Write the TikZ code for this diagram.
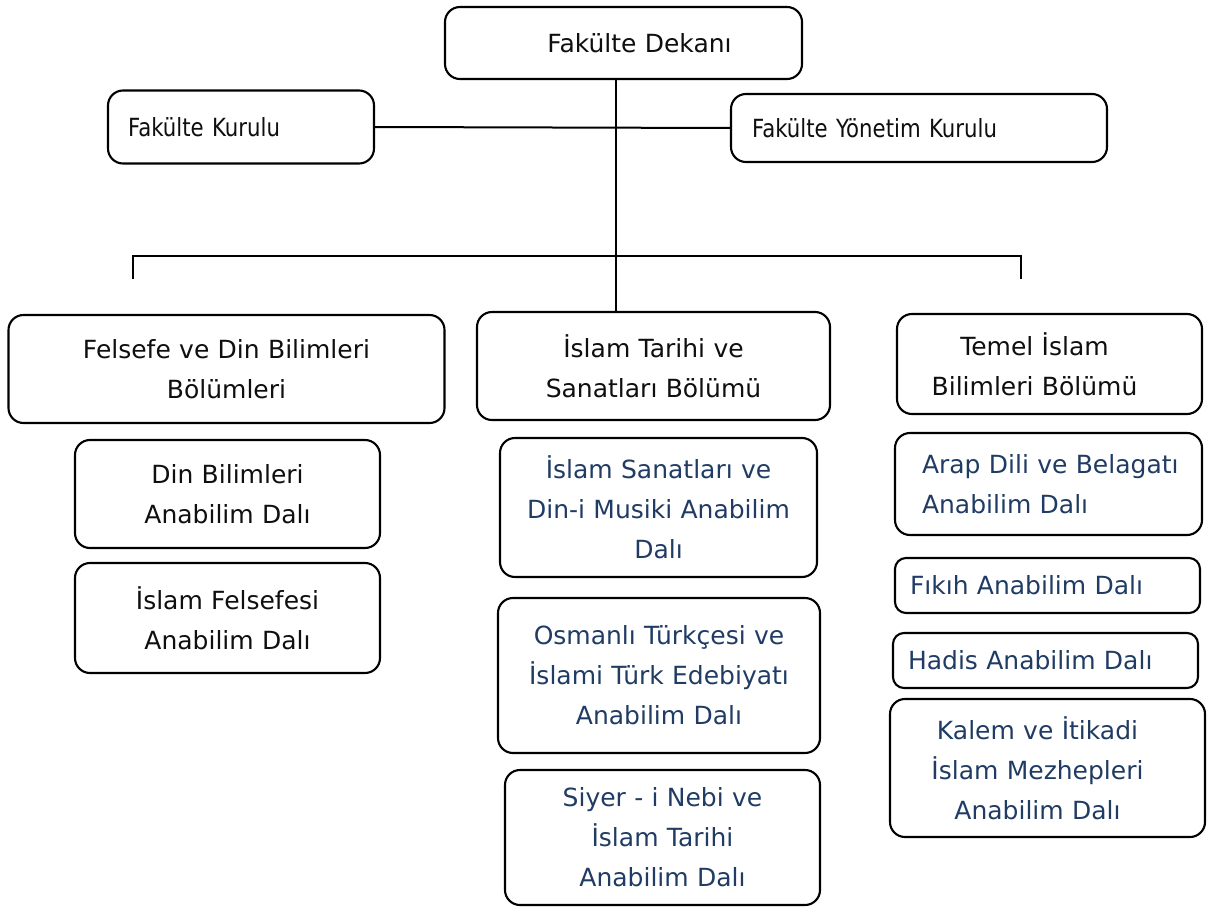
\documentclass[tikz,border=0pt]{standalone}
\usepackage{fontspec}
\setmainfont{DejaVu Sans}
\newfontfamily\narrowfont[FakeStretch=0.85]{DejaVu Sans}
\definecolor{txtblue}{RGB}{32,60,100}
\definecolor{txtblack}{RGB}{15,15,15}
\begin{document}
\begin{tikzpicture}[x=1pt,y=-1pt,
  box/.style={draw=black, line width=2.1pt, rounded corners=15pt, inner xsep=0pt, inner ysep=0pt,
              font=\fontsize{25pt}{40pt}\selectfont, text=txtblack, align=center},
  leftbox/.style={box, align=left},
  sub/.style={box, text=txtblue},
  leftsub/.style={sub, align=left},
  conn/.style={line width=2pt, draw=black}]
\useasboundingbox (0,0) rectangle (1211,907);
\fill[white] (0,0) rectangle (1211,907);

% top level
\node[box, minimum width=357pt, text width=357pt, minimum height=72pt] (dekan) at (623.5,43) {\hspace*{32pt}Fakülte Dekanı};
\node[leftbox, minimum width=266pt, text width=266pt, minimum height=73pt, font=\narrowfont\fontsize{25pt}{40pt}\selectfont] (fk) at (241,127) {\hspace*{20pt}Fakülte Kurulu};
\node[leftbox, minimum width=376pt, text width=376pt, minimum height=68pt, font=\narrowfont\fontsize{25pt}{40pt}\selectfont] (fyk) at (919,128) {\hspace*{21pt}Fakülte Yönetim Kurulu};

% departments
\node[box, minimum width=436pt, text width=436pt, minimum height=108pt] (fdb) at (226.5,369) {Felsefe ve Din Bilimleri\\Bölümleri};
\node[box, minimum width=353pt, text width=353pt, minimum height=108pt] (itsb) at (653.5,366) {İslam Tarihi ve\\Sanatları Bölümü};
\node[box, minimum width=305pt, text width=305pt, minimum height=100pt] (tib) at (1049.5,364) {\hspace*{-30pt}Temel İslam\\\hspace*{-30pt}Bilimleri Bölümü};

% left column
\node[box, minimum width=305pt, text width=305pt, minimum height=108pt] (dbad) at (227.5,494) {Din Bilimleri\\Anabilim Dalı};
\node[box, minimum width=305pt, text width=305pt, minimum height=110pt] (ifad) at (227.5,618) {İslam Felsefesi\\Anabilim Dalı};

% middle column
\node[sub, minimum width=317pt, text width=317pt, minimum height=139pt] (isad) at (658.5,507.5) {İslam Sanatları ve\\Din-i Musiki Anabilim\\Dalı};
\node[sub, minimum width=322pt, text width=322pt, minimum height=155pt] (otad) at (659,675.5) {Osmanlı Türkçesi ve\\İslami Türk Edebiyatı\\Anabilim Dalı};
\node[sub, minimum width=315pt, text width=315pt, minimum height=135pt] (siad) at (662.5,837.5) {Siyer - i Nebi ve\\İslam Tarihi\\Anabilim Dalı};

% right column
\node[leftsub, minimum width=307pt, text width=307pt, minimum height=102pt] (arap) at (1048.5,484) {\hspace*{27pt}Arap Dili ve Belagatı\\\hspace*{27pt}Anabilim Dalı};
\node[leftsub, rounded corners=11pt, minimum width=305pt, text width=305pt, minimum height=55pt] (fikih) at (1047.5,585.5) {\hspace*{15pt}Fıkıh Anabilim Dalı};
\node[leftsub, rounded corners=11pt, minimum width=305pt, text width=305pt, minimum height=55pt] (hadis) at (1045.5,660.5) {\hspace*{15pt}Hadis Anabilim Dalı};
\node[sub, minimum width=315pt, text width=315pt, minimum height=138pt] (kalem) at (1047.5,768) {\hspace*{-20pt}Kalem ve İtikadi\\\hspace*{-20pt}İslam Mezhepleri\\\hspace*{-20pt}Anabilim Dalı};

% connectors
\coordinate (spine) at (616,0);
\coordinate (busL) at (133,256);
\coordinate (busR) at (1021,256);
\coordinate (dropL) at (133,279);
\coordinate (dropR) at (1021,279);
\draw[conn] (dekan.south -| spine) -- (itsb.north -| spine);
\draw[conn] (fk.east) -- (fyk.west);
\draw[conn] (dropL) -- (busL) -- (busR) -- (dropR);
\end{tikzpicture}
\end{document}
